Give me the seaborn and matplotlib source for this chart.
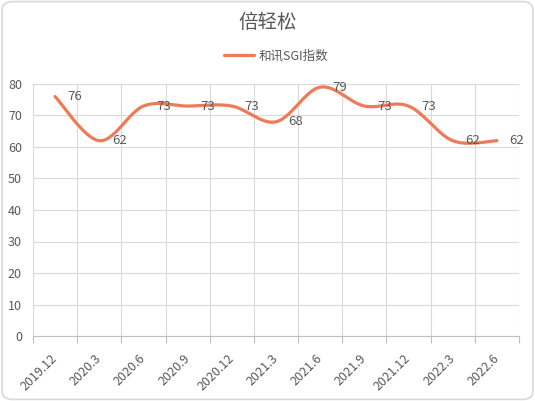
import matplotlib
matplotlib.use("Agg")
import matplotlib.pyplot as plt
from matplotlib.patches import FancyBboxPatch
import numpy as np
import pandas as pd
import seaborn as sns

# data
periods = ["2019.12", "2020.3", "2020.6", "2020.9", "2020.12", "2021.3",
           "2021.6", "2021.9", "2021.12", "2022.3", "2022.6"]
sgi_index = [76, 62, 73, 73, 73, 68, 79, 73, 73, 62, 62]
series_name = "和讯SGI指数"
title = "倍轻松"

line_color = "#EE7A57"
text_color = "#595959"
grid_color = "#D9D9D9"

sns.set_theme(style="white")
plt.rcParams["font.family"] = ["Noto Sans CJK SC", "DejaVu Sans"]


def smooth(x, y, n=30):
    # Excel style smoothed line (bezier through every point)
    x = np.asarray(x, float)
    y = np.asarray(y, float)
    px = np.concatenate([[x[0]], x, [x[-1]]])
    py = np.concatenate([[y[0]], y, [y[-1]]])
    xs, ys = [], []
    t = np.linspace(0, 1, n)
    for i in range(len(x) - 1):
        p0 = np.array([px[i + 1], py[i + 1]])
        p3 = np.array([px[i + 2], py[i + 2]])
        c1 = p0 + (p3 - np.array([px[i], py[i]])) / 6
        c2 = p3 - (np.array([px[i + 3], py[i + 3]]) - p0) / 6
        pts = ((1 - t) ** 3)[:, None] * p0 + (3 * (1 - t) ** 2 * t)[:, None] * c1 \
            + (3 * (1 - t) * t ** 2)[:, None] * c2 + (t ** 3)[:, None] * p3
        xs.extend(pts[:, 0])
        ys.extend(pts[:, 1])
    return np.array(xs), np.array(ys)


pos = np.arange(len(periods))
sx, sy = smooth(pos, sgi_index)
curve = pd.DataFrame({"x": sx, "y": sy})

fig = plt.figure(figsize=(5.35, 4.01), dpi=100)
fig.patches.append(FancyBboxPatch((0.004, 0.004), 0.992, 0.992,
                                  boxstyle="round,pad=0,rounding_size=0.02",
                                  transform=fig.transFigure, fill=False,
                                  edgecolor=grid_color, linewidth=1.2))

ax = fig.add_axes([33 / 535, 1 - 336 / 401, 486 / 535, 252 / 401])
sns.lineplot(data=curve, x="x", y="y", sort=False, estimator=None,
             color=line_color, linewidth=2.3, label=series_name, ax=ax)

# data labels to the right of each point
for p, v in zip(pos, sgi_index):
    ax.annotate(str(v), (p, v), xytext=(9, 0), textcoords="offset points",
                ha="left", va="center", fontsize=9.5, color=text_color)

ax.set_xlim(-0.5, len(periods) - 0.5)
ax.set_ylim(0, 80)
ax.set_yticks(range(0, 81, 10))
ax.set_xticks(pos)
ax.set_xticks(np.arange(-0.5, len(periods)), minor=True)
ax.set_xticklabels(periods, rotation=45, ha="right", va="center",
                   rotation_mode="anchor")
ax.tick_params(axis="x", which="major", length=0, pad=15, labelsize=9,
               labelcolor=text_color)
ax.tick_params(axis="x", which="minor", length=5, color="#BFBFBF", width=0.8,
               direction="out", bottom=True)
ax.tick_params(axis="y", length=0, pad=8, labelsize=9, labelcolor=text_color)
ax.grid(axis="y", color=grid_color, linewidth=0.8)
ax.grid(axis="x", which="minor", color=grid_color, linewidth=0.8)
ax.grid(axis="x", which="major", visible=False)
for side in ["top", "right", "left"]:
    ax.spines[side].set_visible(False)
ax.spines["bottom"].set_color("#BFBFBF")
ax.spines["bottom"].set_linewidth(0.8)
ax.set_xlabel("")
ax.set_ylabel("")

ax.legend(loc="center", bbox_to_anchor=(0.5, 1.11), frameon=False,
          fontsize=9, handlelength=2.4, handletextpad=0.4,
          labelcolor=text_color)
fig.text(0.5, 1 - 22 / 401, title, ha="center", va="center", fontsize=14,
         color=text_color)

plt.savefig("out.png", dpi=100)
plt.close()
